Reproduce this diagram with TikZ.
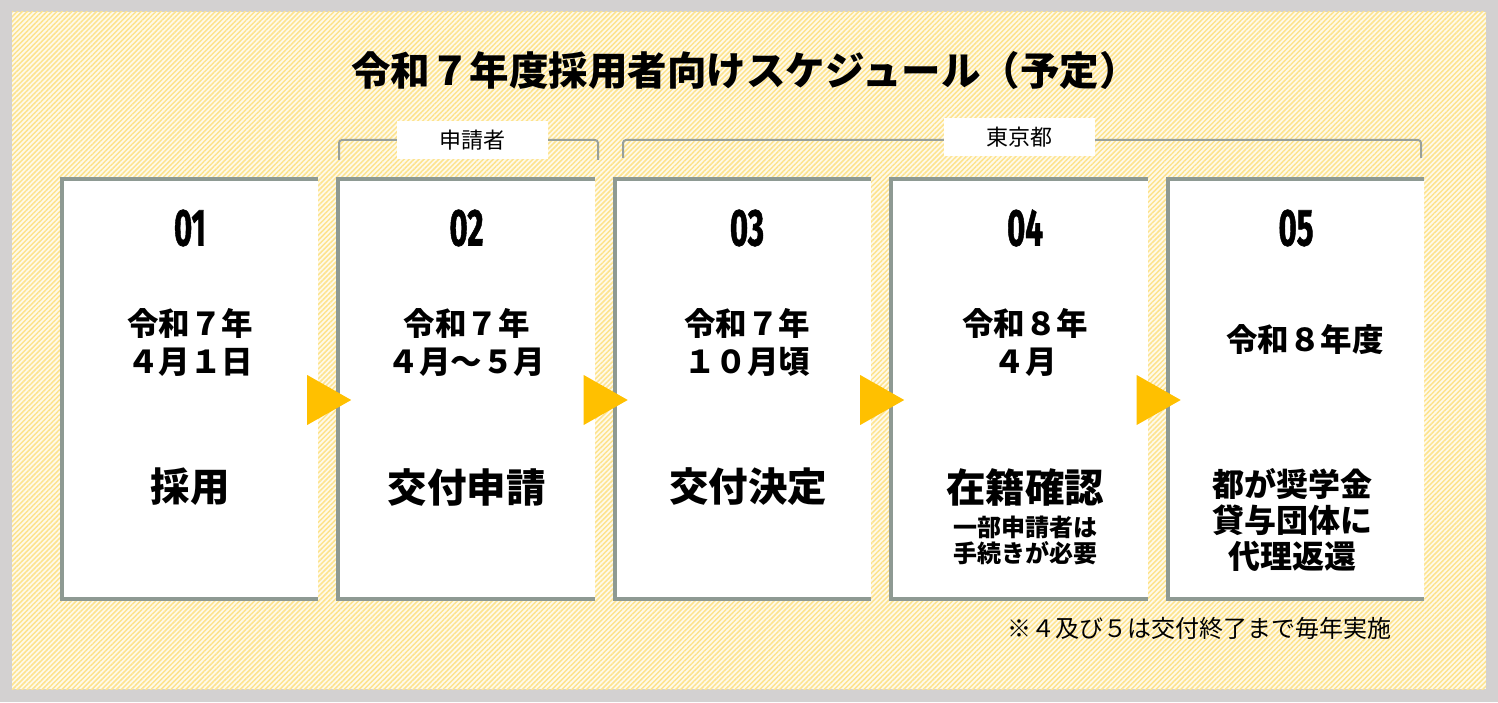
\documentclass[tikz,border=0pt]{standalone}
\usepackage{fontspec}
\setmainfont{Noto Sans CJK JP}
\newfontfamily\numfont{Fira Sans}[BoldFeatures={FakeBold=1.4}]
\usetikzlibrary{patterns.meta}
\definecolor{framegray}{HTML}{D3D1D1}
\definecolor{paper}{HTML}{FFFAEA}
\definecolor{hatch}{HTML}{FDE38E}
\definecolor{rimgray}{HTML}{8E9A93}
\definecolor{bracegray}{HTML}{98A09A}
\definecolor{arrowyellow}{HTML}{FFC000}
\newcommand{\stepnum}[1]{\scalebox{0.6}[1]{\numfont\bfseries #1}}
\tikzset{
	stepbox/.style={fill=white,minimum width=256pt,minimum height=420pt,inner sep=0pt},
	rim/.style={draw=rimgray,line width=4pt},
	tri/.style={fill=arrowyellow},
	brace/.style={draw=bracegray,line width=2pt,rounded corners=3pt},
	tag/.style={fill=white,minimum width=151pt,minimum height=38pt,inner sep=0pt,font=\fontsize{22}{22}\selectfont},
	titletext/.style={font=\fontsize{39.5}{39.5}\selectfont\bfseries},
	numtext/.style={font=\fontsize{52}{52}\selectfont},
	datetext/.style={align=center,font=\fontsize{31.5}{38}\selectfont\bfseries},
	maintext/.style={align=center,font=\fontsize{39.5}{39.5}\selectfont\bfseries},
	subtext/.style={align=center,font=\fontsize{24}{26}\selectfont\bfseries},
	longtext/.style={align=center,font=\fontsize{32}{36}\selectfont\bfseries},
	note/.style={font=\fontsize{24}{24}\selectfont}
}
\begin{document}
\begin{tikzpicture}[x=1pt,y=1pt]
	\fill[framegray] (0,0) rectangle (1498,702);
	\fill[paper] (12,13) rectangle (1486,690);
	\fill[pattern={Lines[angle=45,distance=3.5pt,line width=1.5pt]},pattern color=hatch] (12,13) rectangle (1486,690);
	\useasboundingbox (0,0) rectangle (1498,702);

	\node[titletext] (title) at (745,632) {令和７年度採用者向けスケジュール（予定）};

	\draw[brace] (339,542) -- (339,562) -- (598,562) -- (598,542);
	\node[tag] (applicant) at (472.5,562) {申請者};
	\draw[brace] (623,544) -- (623,562) -- (1421,562) -- (1421,544);
	\node[tag] (tokyo) at (1019,564.5) {東京都};

	\node[stepbox] (b1) at (190,313) {};
	\node[stepbox] (b2) at (466.5,313) {};
	\node[stepbox] (b3) at (743,313) {};
	\node[stepbox] (b4) at (1019.5,313) {};
	\node[stepbox] (b5) at (1296,313) {};

	\draw[rim] (b1.north east) -- (b1.north west) -- (b1.south west) -- (b1.south east);
	\draw[rim] (b2.north east) -- (b2.north west) -- (b2.south west) -- (b2.south east);
	\draw[rim] (b3.north east) -- (b3.north west) -- (b3.south west) -- (b3.south east);
	\draw[rim] (b4.north east) -- (b4.north west) -- (b4.south west) -- (b4.south east);
	\draw[rim] (b5.north east) -- (b5.north west) -- (b5.south west) -- (b5.south east);

	\node[numtext] (n1) at (190,474) {\stepnum{01}};
	\node[numtext] (n2) at (466.5,474) {\stepnum{02}};
	\node[numtext] (n3) at (747,474) {\stepnum{03}};
	\node[numtext] (n4) at (1025,474) {\stepnum{04}};
	\node[numtext] (n5) at (1296,474) {\stepnum{05}};

	\node[datetext] (d1) at (190,360) {令和７年\\４月１日};
	\node[datetext] (d2) at (466.5,360) {令和７年\\４月～５月};
	\node[datetext] (d3) at (747,360) {令和７年\\１０月頃};
	\node[datetext] (d4) at (1025,360) {令和８年\\４月};
	\node[datetext] (d5) at (1305,362) {令和８年度};

	\node[maintext] (m1) at (190,215) {採用};
	\node[maintext] (m2) at (466.5,215) {交付申請};
	\node[maintext] (m3) at (748,215) {交付決定};
	\node[maintext] (m4) at (1025,215) {在籍確認};
	\node[subtext] (s4) at (1025,162) {一部申請者は\\手続きが必要};
	\node[longtext] (m5) at (1292,182) {都が奨学金\\貸与団体に\\代理返還};

	\fill[tri] ([xshift=-11pt,yshift=14pt]b1.east) -- ([xshift=33pt,yshift=-11pt]b1.east) -- ([xshift=-11pt,yshift=-36pt]b1.east) -- cycle;
	\fill[tri] ([xshift=-11pt,yshift=14pt]b2.east) -- ([xshift=33pt,yshift=-11pt]b2.east) -- ([xshift=-11pt,yshift=-36pt]b2.east) -- cycle;
	\fill[tri] ([xshift=-11pt,yshift=14pt]b3.east) -- ([xshift=33pt,yshift=-11pt]b3.east) -- ([xshift=-11pt,yshift=-36pt]b3.east) -- cycle;
	\fill[tri] ([xshift=-11pt,yshift=14pt]b4.east) -- ([xshift=33pt,yshift=-11pt]b4.east) -- ([xshift=-11pt,yshift=-36pt]b4.east) -- cycle;

	\node[note,anchor=east] (footnote) at (1395,74) {※４及び５は交付終了まで毎年実施};
\end{tikzpicture}
\end{document}
